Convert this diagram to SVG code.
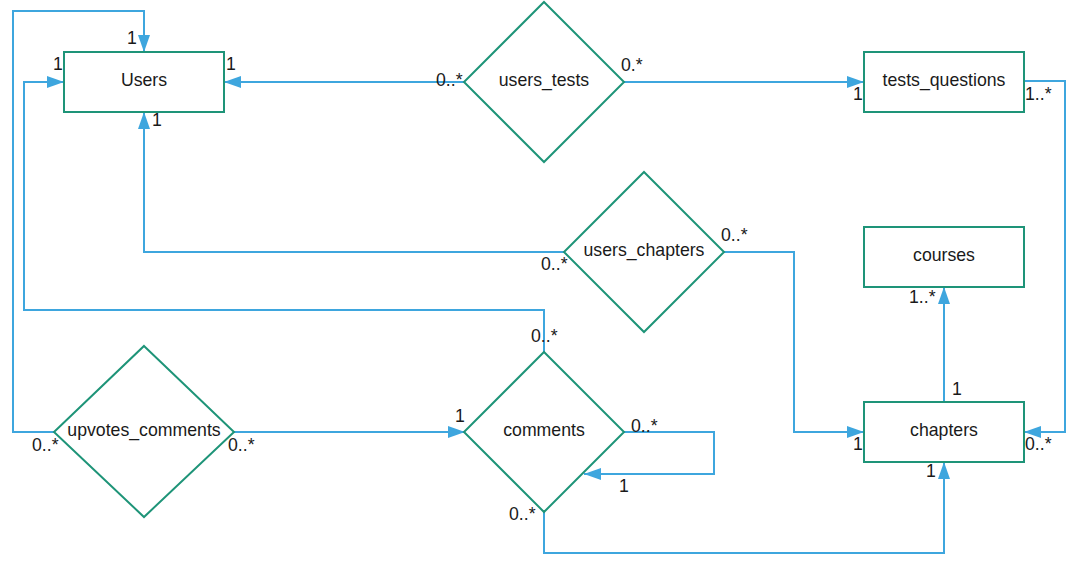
<svg xmlns="http://www.w3.org/2000/svg" width="1090" height="569" viewBox="0 0 1090 569">
<style>
.node{fill:#fff;stroke:#1e9478;stroke-width:2}
.lbl{font-family:"Liberation Sans",Arial,sans-serif;font-size:17.7px;fill:#1a1a1a}
.name{text-anchor:middle}
.edge{fill:none;stroke:#3ea6de;stroke-width:2;marker-end:url(#arr)}
</style>
<defs>
<marker id="arr" markerUnits="userSpaceOnUse" markerWidth="17" markerHeight="12" viewBox="0 0 17 12" refX="17" refY="6" orient="auto">
<path d="M0,0 L17,6 L0,12 z" fill="#3ea6de"/>
</marker>
</defs>
<rect width="1090" height="569" fill="#fff"/>
<g id="connectors">
<path class="edge" d="M54,432 H13 V11 H144 V52"/>
<path class="edge" d="M544,352 V310 H24 V82 H64"/>
<path class="edge" d="M464,82 H224"/>
<path class="edge" d="M624,82 H864"/>
<path class="edge" d="M564,252 H144 V112"/>
<path class="edge" d="M724,252 H794 V432 H864"/>
<path class="edge" d="M1024,81 H1065 V432 H1024"/>
<path class="edge" d="M944,402 V287"/>
<path class="edge" d="M544,512 V553 H944 V462"/>
<path class="edge" d="M234,432 H465"/>
<path class="edge" d="M624,432 H714 V474 H584"/>
</g>
<g id="users"><rect class="node" x="64" y="52" width="160" height="60"/><text class="lbl name" x="144" y="86">Users</text></g>
<g id="tests_questions"><rect class="node" x="864" y="52" width="160" height="60"/><text class="lbl name" x="944" y="86">tests_questions</text></g>
<g id="courses"><rect class="node" x="864" y="227" width="160" height="60"/><text class="lbl name" x="944" y="261">courses</text></g>
<g id="chapters"><rect class="node" x="864" y="402" width="160" height="60"/><text class="lbl name" x="944" y="436">chapters</text></g>
<g id="users_tests"><polygon class="node" points="544,2 624,82 544,162 464,82"/><text class="lbl name" x="544" y="86">users_tests</text></g>
<g id="users_chapters"><polygon class="node" points="644,172 724,252 644,332 564,252"/><text class="lbl name" x="644" y="256">users_chapters</text></g>
<g id="upvotes_comments"><polygon class="node" points="144,346 234,432 144,517 54,432"/><text class="lbl name" x="144" y="436">upvotes_comments</text></g>
<g id="comments"><polygon class="node" points="544,352 624,432 544,512 464,432"/><text class="lbl name" x="544" y="436">comments</text></g>
<g id="labels">
<text class="lbl" x="127" y="44">1</text>
<text class="lbl" x="53" y="70">1</text>
<text class="lbl" x="226" y="70">1</text>
<text class="lbl" x="152" y="126">1</text>
<text class="lbl" x="436" y="86">0..*</text>
<text class="lbl" x="621" y="71">0.*</text>
<text class="lbl" x="853" y="100">1</text>
<text class="lbl" x="1025" y="100">1..*</text>
<text class="lbl" x="721" y="241">0..*</text>
<text class="lbl" x="541" y="270">0..*</text>
<text class="lbl" x="531" y="342">0..*</text>
<text class="lbl" x="455" y="422">1</text>
<text class="lbl" x="631" y="432">0..*</text>
<text class="lbl" x="619" y="492">1</text>
<text class="lbl" x="509" y="520">0..*</text>
<text class="lbl" x="32" y="451">0..*</text>
<text class="lbl" x="228" y="451">0..*</text>
<text class="lbl" x="909" y="303">1..*</text>
<text class="lbl" x="952" y="395">1</text>
<text class="lbl" x="853" y="450">1</text>
<text class="lbl" x="1025" y="450">0..*</text>
<text class="lbl" x="926" y="477">1</text>
</g>
</svg>
